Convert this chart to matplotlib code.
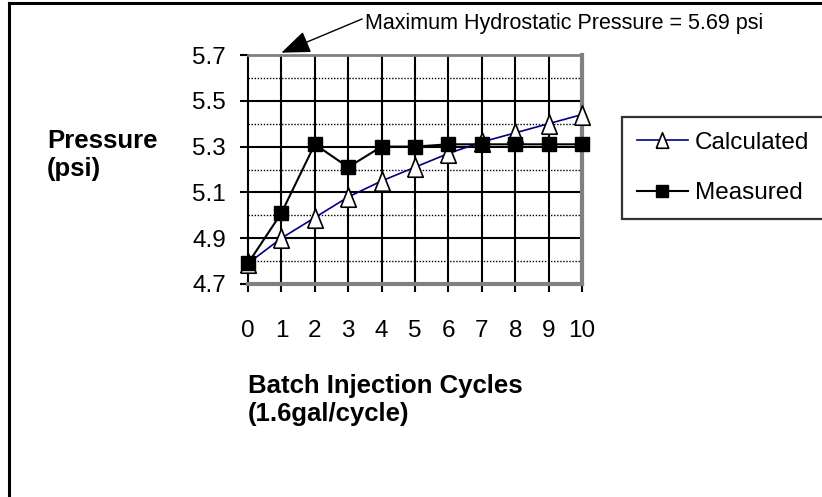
import numpy as np
import matplotlib
matplotlib.use('Agg')
import matplotlib.pyplot as plt
from matplotlib.lines import Line2D

plt.rcParams['font.family'] = ['Liberation Sans', 'DejaVu Sans']

cycles = [0, 1, 2, 3, 4, 5, 6, 7, 8, 9, 10]
calculated = [4.79, 4.90, 4.99, 5.08, 5.15, 5.21, 5.27, 5.32, 5.36, 5.40, 5.44]
measured = [4.79, 5.01, 5.31, 5.21, 5.30, 5.30, 5.31, 5.31, 5.31, 5.31, 5.31]
y_ticks = [4.7, 4.9, 5.1, 5.3, 5.5, 5.7]
y_minor = [4.8, 5.0, 5.2, 5.4, 5.6]
max_pressure = 5.69

W, H = 822, 497
fig = plt.figure(figsize=(W / 100, H / 100), dpi=100)

# outer frame (only top and left edges are visible)
fig.add_artist(Line2D([9 / W, 1], [1 - 3 / H, 1 - 3 / H], color='black', lw=2.2,
                      transform=fig.transFigure))
fig.add_artist(Line2D([9 / W, 9 / W], [0, 1 - 3 / H], color='black', lw=2.2,
                      transform=fig.transFigure))

ax = fig.add_axes([248 / W, 1 - 284 / H, (582 - 248) / W, (284 - 55) / H])
ax.set_xlim(0, 10)
ax.set_ylim(4.7, 5.7)

# grid
for y in y_minor:
    ax.axhline(y, color='black', lw=1.0, ls=(0, (1, 1.2)), zorder=1)
for y in y_ticks[1:-1]:
    ax.axhline(y, color='black', lw=1.5, zorder=1)
for x in cycles[1:-1]:
    ax.axvline(x, color='black', lw=1.5, zorder=1)

for side in ['top', 'right', 'bottom']:
    ax.spines[side].set_color('#808080')
ax.spines['top'].set_linewidth(2.0)
ax.spines['right'].set_linewidth(3.0)
ax.spines['bottom'].set_linewidth(3.0)
ax.spines['left'].set_color('black')
ax.spines['left'].set_linewidth(1.5)

# narrow, tall triangle marker
tri = [(-0.8, -1.0), (0.8, -1.0), (0.0, 1.0), (-0.8, -1.0)]

ax.plot(cycles, calculated, color='#000080', lw=1.2, marker=tri, markersize=14,
        markerfacecolor='white', markeredgecolor='black', markeredgewidth=1.2,
        clip_on=False, zorder=3, label='Calculated')
ax.plot(cycles, measured, color='black', lw=1.5, marker='s', markersize=10,
        markerfacecolor='black', markeredgecolor='black',
        clip_on=False, zorder=4, label='Measured')

ax.set_xticks(cycles)
ax.set_yticks(y_ticks)
ax.set_yticklabels([f'{v:.1f}' for v in y_ticks])
ax.tick_params(axis='x', direction='out', length=6, width=1.5, pad=20, labelsize=17.5)
ax.tick_params(axis='y', direction='out', length=6, width=1.5, pad=10, labelsize=17.5)

fig.text(47 / W, 1 - 155 / H, 'Pressure\n(psi)', fontsize=18.5, fontweight='bold',
         ha='left', va='center', linespacing=1.2)
fig.text(248 / W, 1 - 400 / H, 'Batch Injection Cycles\n(1.6gal/cycle)', fontsize=18.5,
         fontweight='bold', ha='left', va='center', linespacing=1.2)

ax.annotate(f'Maximum Hydrostatic Pressure = {max_pressure} psi',
            xy=(1.0, 5.71), xycoords='data',
            xytext=(365 / W, 1 - 23 / H), textcoords='figure fraction',
            fontsize=15.5, ha='left', va='center',
            arrowprops=dict(arrowstyle='-|>,head_length=0.9,head_width=0.35',
                            color='black', lw=1.0, mutation_scale=20,
                            shrinkA=0, shrinkB=0, relpos=(0, 0.75)),
            annotation_clip=False)

leg = ax.legend(loc='upper left', bbox_to_anchor=(622 / W, 1 - 117 / H),
                bbox_transform=fig.transFigure, borderaxespad=0, frameon=True,
                fancybox=False, fontsize=17.5, handlelength=2.1, handletextpad=0.3,
                labelspacing=1.17, borderpad=0.6, markerscale=0.8)
leg.get_frame().set_edgecolor('black')
leg.get_frame().set_linewidth(1.6)

fig.savefig('out.png', dpi=100)
